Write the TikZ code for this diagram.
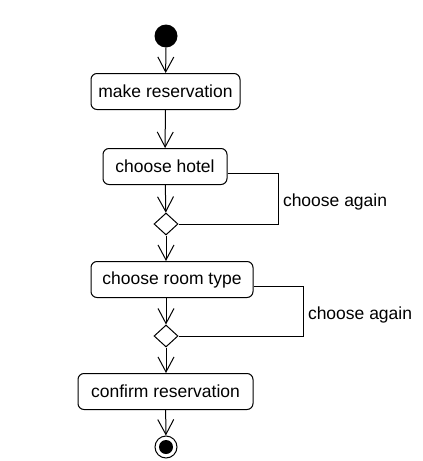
\documentclass[tikz,border=0pt]{standalone}
\usepackage{fontspec}
\setmainfont{Liberation Sans}
\usetikzlibrary{arrows.meta, shapes.geometric}
\begin{document}
\begin{tikzpicture}[x=1pt, y=-1pt,
        font=\fontsize{17.5}{21}\selectfont,
        action/.style={rectangle, draw, rounded corners=6pt, minimum height=36pt, inner sep=0pt, line width=1pt},
        branch/.style={diamond, draw, minimum width=24pt, minimum height=22pt, inner sep=0pt, line width=1pt},
        flow/.style={-{Straight Barb[length=15pt, width=16pt]}, line width=1pt},
        loopline/.style={line width=1pt}
    ]
        \useasboundingbox (0,0) rectangle (423,461);

        \node[circle, fill, minimum size=23pt, inner sep=0pt] (start) at (166,36) {};
        \node[action, minimum width=149pt] (make)    at (165.5,91.5)  {make reservation};
        \node[action, minimum width=124pt] (hotel)   at (165,166.5)   {choose hotel};
        \node[branch]                      (dhotel)  at (166,224)     {};
        \node[action, minimum width=162pt] (room)    at (172,279.5)   {choose room type};
        \node[branch]                      (droom)   at (166,336)     {};
        \node[action, minimum width=175pt] (confirm) at (165.5,391.5) {confirm reservation};
        \node[circle, draw, line width=1pt, minimum size=22pt, inner sep=0pt] (stop) at (166,447) {};
        \node[circle, fill, minimum size=14pt, inner sep=0pt] (stopdot) at (stop.center) {};

        \draw[flow] (start) -- (make);
        \draw[flow] (make) -- (hotel);
        \draw[flow] (hotel) -- (dhotel);
        \draw[flow] (dhotel.south) -- (dhotel.south |- room.north);
        \draw[flow] (dhotel.south |- room.south) -- (droom);
        \draw[flow] (droom) -- (droom.south |- confirm.north);
        \draw[flow] (confirm) -- (stop);

        \draw[loopline] ([yshift=-6.5pt]hotel.east) -- ++(51,0) coordinate (hturn)
            |- node[right, pos=0.28, inner sep=4pt] (hagain) {choose again} (dhotel.east);
        \draw[loopline] ([yshift=-6.5pt]room.east) -- ++(50,0) coordinate (rturn)
            |- node[right, pos=0.29, inner sep=4pt] (ragain) {choose again} (droom.east);
    \end{tikzpicture}
\end{document}
